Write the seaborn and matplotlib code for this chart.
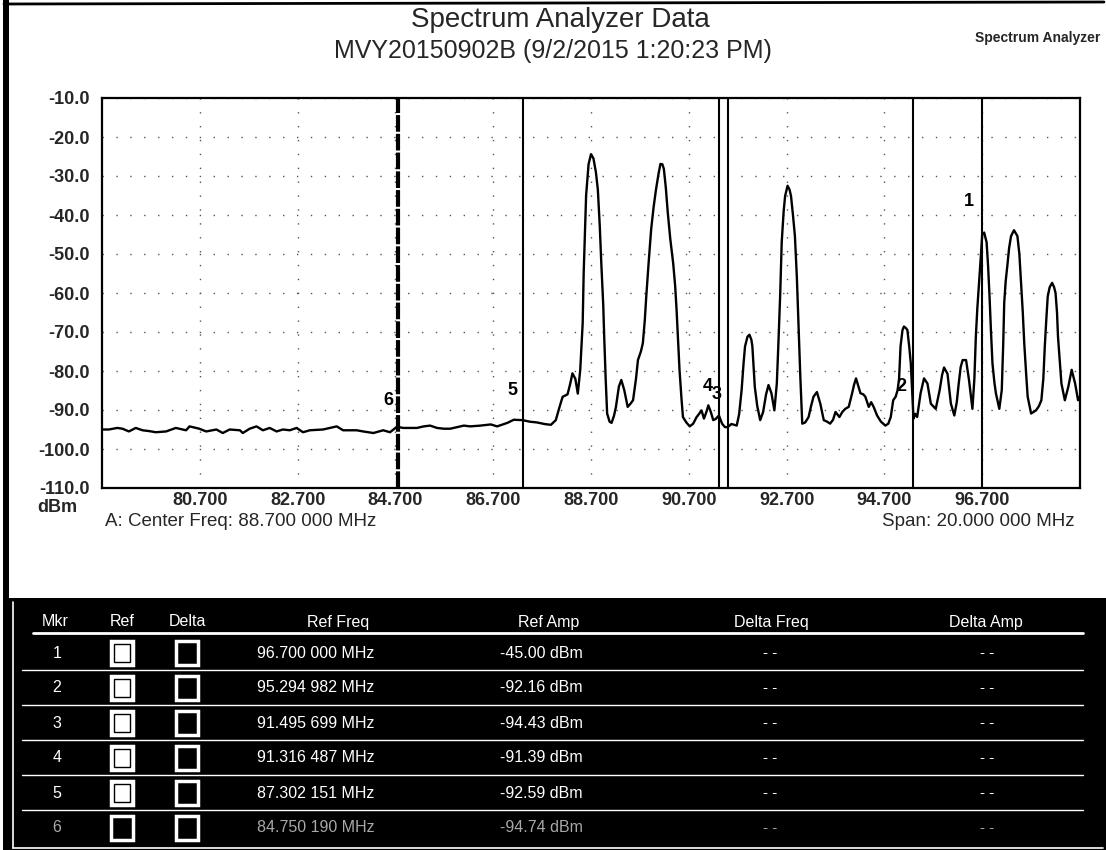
import matplotlib
matplotlib.use('Agg')
import matplotlib.pyplot as plt
import seaborn as sns
import pandas as pd
from matplotlib.patches import Rectangle
from matplotlib.lines import Line2D

sns.set_style('white')
plt.rcParams['font.family'] = ['Liberation Sans', 'DejaVu Sans']

# ---------------- data ----------------
freq_mhz = [
    78.70, 78.84, 79.01, 79.12, 79.25, 79.39, 79.53, 79.66, 79.80, 80.01,
    80.21, 80.42, 80.49, 80.69, 80.83, 81.04, 81.17, 81.31, 81.52, 81.58,
    81.72, 81.86, 81.99, 82.13, 82.27, 82.40, 82.54, 82.68, 82.81, 82.95,
    83.22, 83.50, 83.63, 83.91, 84.04, 84.25, 84.45, 84.59, 84.73, 84.86,
    85.14, 85.28, 85.41, 85.55, 85.69, 85.82, 86.10, 86.23, 86.44, 86.65,
    86.78, 86.99, 87.12, 87.30, 87.45, 87.60, 87.75, 87.88, 87.98, 88.05,
    88.12, 88.22, 88.28, 88.32, 88.38, 88.43, 88.48, 88.53, 88.55, 88.60,
    88.65, 88.70, 88.75, 88.80, 88.84, 88.88, 88.91, 88.95, 88.97, 89.00,
    89.03, 89.08, 89.12, 89.17, 89.21, 89.27, 89.32, 89.38, 89.45, 89.50,
    89.56, 89.62, 89.66, 89.72, 89.76, 89.80, 89.83, 89.88, 89.93, 89.98,
    90.03, 90.08, 90.12, 90.16, 90.19, 90.23, 90.27, 90.32, 90.38, 90.42,
    90.45, 90.48, 90.51, 90.55, 90.58, 90.65, 90.72, 90.79, 90.86, 90.91,
    90.96, 91.01, 91.06, 91.10, 91.15, 91.20, 91.25, 91.316, 91.38, 91.44,
    91.496, 91.57, 91.63, 91.68, 91.73, 91.78, 91.82, 91.85, 91.90, 91.94,
    91.98, 92.00, 92.05, 92.10, 92.16, 92.22, 92.28, 92.33, 92.39, 92.45,
    92.50, 92.53, 92.57, 92.60, 92.64, 92.67, 92.72, 92.76, 92.79, 92.83,
    92.87, 92.91, 92.94, 92.98, 93.02, 93.08, 93.15, 93.20, 93.25, 93.32,
    93.39, 93.46, 93.53, 93.59, 93.65, 93.70, 93.78, 93.84, 93.90, 93.97,
    94.04, 94.08, 94.12, 94.17, 94.21, 94.27, 94.31, 94.38, 94.43, 94.48,
    94.55, 94.63, 94.72, 94.78, 94.83, 94.88, 94.93, 94.97, 95.00, 95.03,
    95.07, 95.10, 95.14, 95.17, 95.21, 95.24, 95.27, 95.295, 95.33, 95.37,
    95.44, 95.51, 95.58, 95.65, 95.75, 95.83, 95.88, 95.92, 95.99, 96.06,
    96.13, 96.18, 96.22, 96.26, 96.30, 96.37, 96.43, 96.50, 96.54, 96.57,
    96.60, 96.64, 96.67, 96.70, 96.74, 96.79, 96.82, 96.85, 96.88, 96.91,
    96.95, 96.98, 97.05, 97.10, 97.13, 97.15, 97.18, 97.22, 97.25, 97.29,
    97.35, 97.42, 97.46, 97.49, 97.53, 97.56, 97.60, 97.63, 97.70, 97.75,
    97.80, 97.86, 97.91, 97.95, 97.98, 98.01, 98.04, 98.08, 98.13, 98.17,
    98.20, 98.23, 98.25, 98.29, 98.32, 98.39, 98.46, 98.53, 98.60, 98.66,
    98.70,
]
amp_dbm = [
    -95.0, -95.0, -94.6, -94.8, -95.5, -94.6, -95.2, -95.4, -95.7, -95.5,
    -94.6, -95.2, -94.2, -94.8, -95.5, -95.0, -95.9, -95.0, -95.2, -95.9,
    -94.8, -94.2, -95.2, -94.6, -95.5, -95.0, -95.2, -94.6, -95.7, -95.2,
    -95.0, -94.2, -95.2, -95.2, -95.5, -95.9, -95.2, -95.7, -94.3, -94.6,
    -94.6, -94.2, -94.0, -94.6, -94.8, -94.8, -94.0, -94.2, -94.0, -93.7,
    -94.2, -93.3, -92.5, -92.6, -93.0, -93.2, -93.6, -93.8, -92.6, -89.5,
    -86.6, -86.0, -83.0, -80.6, -82.0, -85.8, -79.7, -67.7, -55.0, -35.0,
    -27.0, -24.4, -25.5, -29.0, -33.5, -43.0, -52.2, -63.0, -71.2, -82.0,
    -90.9, -93.0, -93.3, -91.5, -89.2, -84.0, -82.3, -84.9, -89.2, -88.5,
    -87.5, -82.0, -77.2, -75.0, -72.9, -67.0, -60.9, -52.0, -43.7, -38.0,
    -33.4, -29.5, -26.9, -27.0, -28.2, -33.0, -39.4, -46.0, -52.3, -58.0,
    -64.3, -72.0, -79.7, -87.0, -91.8, -93.2, -94.2, -93.5, -91.8, -91.0,
    -90.1, -92.2, -90.5, -88.8, -90.5, -92.6, -92.3, -91.4, -93.5, -94.4,
    -94.4, -93.6, -93.8, -94.0, -91.0, -84.9, -78.0, -73.7, -71.2, -70.7,
    -72.0, -73.7, -84.1, -89.0, -92.6, -90.5, -86.0, -83.6, -85.7, -90.1,
    -83.2, -73.7, -60.0, -47.0, -39.0, -35.1, -32.5, -33.5, -35.1, -40.0,
    -45.4, -56.0, -66.9, -81.3, -93.5, -93.2, -91.8, -89.0, -86.6, -85.4,
    -88.4, -92.6, -93.0, -93.5, -92.5, -90.5, -91.8, -90.5, -89.7, -89.2,
    -85.7, -83.5, -81.9, -84.0, -85.7, -86.0, -86.6, -89.2, -88.0, -89.2,
    -91.4, -93.0, -94.0, -93.5, -91.8, -87.5, -86.6, -84.9, -82.0, -73.7,
    -69.5, -68.6, -69.0, -69.5, -74.0, -78.1, -86.0, -92.2, -91.0, -91.8,
    -85.7, -81.9, -83.2, -88.4, -89.7, -84.9, -81.0, -79.1, -80.7, -88.4,
    -91.4, -88.0, -83.2, -79.0, -77.2, -77.2, -82.3, -89.7, -82.0, -71.2,
    -64.0, -56.6, -51.0, -45.0, -44.5, -47.0, -53.0, -60.9, -70.0, -78.1,
    -83.0, -85.7, -89.7, -84.9, -73.0, -62.6, -57.0, -52.3, -48.5, -45.4,
    -43.9, -45.4, -50.0, -56.6, -65.0, -72.9, -81.0, -86.6, -90.9, -90.5,
    -90.1, -89.0, -87.5, -82.0, -73.7, -67.0, -60.9, -58.5, -57.4, -58.5,
    -60.0, -65.0, -71.2, -78.0, -83.2, -87.5, -84.1, -79.7, -83.2, -87.5,
    -86.5,
]

x_ticks = [80.7, 82.7, 84.7, 86.7, 88.7, 90.7, 92.7, 94.7, 96.7]
x_tick_labels = ["80.700", "82.700", "84.700", "86.700", "88.700",
                 "90.700", "92.700", "94.700", "96.700"]
y_ticks = [-10, -20, -30, -40, -50, -60, -70, -80, -90, -100, -110]
y_tick_labels = ["-10.0", "-20.0", "-30.0", "-40.0", "-50.0", "-60.0",
                 "-70.0", "-80.0", "-90.0", "-100.0", "-110.0"]

marker_ids = ["1", "2", "3", "4", "5", "6"]
marker_freq = [96.700000, 95.294982, 91.495699, 91.316487, 87.302151, 84.750190]
marker_freq_labels = ["96.700 000 MHz", "95.294 982 MHz", "91.495 699 MHz",
                      "91.316 487 MHz", "87.302 151 MHz", "84.750 190 MHz"]
marker_amp_labels = ["-45.00 dBm", "-92.16 dBm", "-94.43 dBm",
                     "-91.39 dBm", "-92.59 dBm", "-94.74 dBm"]
# where the marker numbers sit on the plot (freq, dBm)
marker_label_pos = [(96.42, -36.5), (95.05, -84.0), (91.27, -86.0),
                    (91.08, -84.0), (87.10, -85.0), (84.55, -87.5)]

# ---------------- figure ----------------
W, H = 1106, 850
fig = plt.figure(figsize=(W / 100, H / 100), dpi=100)
fig.patch.set_facecolor('white')

L, R, T, B = 102, 1080, 98, 488
ax = fig.add_axes([L / W, 1 - B / H, (R - L) / W, (B - T) / H])
ax.set_zorder(2)

df = pd.DataFrame({'freq': freq_mhz, 'amp': amp_dbm})
sns.lineplot(data=df, x='freq', y='amp', ax=ax, color='black',
             linewidth=1.7, sort=False, estimator=None)

ax.set_xlim(78.7, 98.7)
ax.set_ylim(-110, -10)
ax.set_xticks(x_ticks)
ax.set_xticklabels(x_tick_labels, fontsize=13, fontweight='bold')
ax.set_yticks(y_ticks)
ax.set_yticklabels(y_tick_labels, fontsize=13, fontweight='bold')
ax.tick_params(axis='x', length=0, pad=3)
ax.tick_params(axis='y', length=0, pad=9)
ax.set_xlabel('')
ax.set_ylabel('')
ax.grid(True, color='#555555', linestyle=(0, (1, 9)), linewidth=1.0)
for s in ax.spines.values():
    s.set_color('black')
    s.set_linewidth(1.6)

# marker lines
for i, f in enumerate(marker_freq):
    if marker_ids[i] == "6":
        ax.axvline(f, color='black', linewidth=3.0, linestyle=(0, (4, 0.5)), zorder=3)
    else:
        ax.axvline(f, color='black', linewidth=1.5, zorder=3)
for mid, (fx, fy) in zip(marker_ids, marker_label_pos):
    ax.text(fx, fy, mid, fontsize=13, fontweight='bold', ha='center',
            va='center', color='black', zorder=4)

# ---------------- overlay in pixel coordinates ----------------
ov = fig.add_axes([0, 0, 1, 1])
ov.set_xlim(0, W)
ov.set_ylim(H, 0)
ov.axis('off')
ov.set_zorder(1)

# page border (scan frame)
ov.add_patch(Rectangle((3, 0), 6, H, color='black', lw=0))
ov.add_line(Line2D([4, 1104], [4, 2], color='black', lw=2))

ov.text(560, 20, "Spectrum Analyzer Data", fontsize=20, ha='center', va='center')
ov.text(553, 51, "MVY20150902B (9/2/2015 1:20:23 PM)", fontsize=18,
        ha='center', va='center')
ov.text(1100, 38, "Spectrum Analyzer", fontsize=10, fontweight='bold',
        ha='right', va='center')

ov.text(57, 508, "dBm", fontsize=13, fontweight='bold', ha='center', va='center')
ov.text(105, 522, "A: Center Freq: 88.700 000 MHz", fontsize=13.5, ha='left', va='center')
ov.text(1075, 522, "Span: 20.000 000 MHz", fontsize=13.5, ha='right', va='center')

# ---------------- marker table ----------------
ov.add_patch(Rectangle((9, 598), 1097, 252, color='black', lw=0))
ov.add_line(Line2D([13, 13], [602, 848], color='white', lw=1.2))
ov.add_line(Line2D([13, 1103], [848, 848], color='white', lw=1.2))

hdr_y = 622
cols = [("Mkr", 55), ("Ref", 122), ("Delta", 187), ("Ref Freq", 338),
        ("Ref Amp", 549), ("Delta Freq", 771), ("Delta Amp", 986)]
for name, cx in cols:
    ov.text(cx, hdr_y, name, fontsize=11.5, color='white', ha='center', va='center')
ov.add_line(Line2D([33, 1083], [633, 633], color='white', lw=2))

row0, step = 653, 35
for i, mid in enumerate(marker_ids):
    yc = row0 + i * step
    dim = (mid == "6")
    tc = '#a8a8a8' if dim else 'white'
    ov.text(57, yc, mid, fontsize=11.5, color=tc, ha='center', va='center')
    # Ref checkbox
    if dim:
        ov.add_patch(Rectangle((111, yc - 12), 22, 24, fill=False,
                               edgecolor='white', lw=2.5))
    else:
        ov.add_patch(Rectangle((111, yc - 12), 22, 24, facecolor='white',
                               edgecolor='white', lw=2.5))
        ov.add_patch(Rectangle((114, yc - 9), 16, 18, fill=False,
                               edgecolor='black', lw=1.0))
    # Delta checkbox
    ov.add_patch(Rectangle((176, yc - 12), 22, 24, fill=False,
                           edgecolor='white', lw=2.5))
    ov.text(257, yc, marker_freq_labels[i], fontsize=11.5, color=tc,
            ha='left', va='center')
    ov.text(500, yc, marker_amp_labels[i], fontsize=11.5, color=tc,
            ha='left', va='center')
    ov.text(770, yc, "- -", fontsize=11, color=tc, ha='center', va='center')
    ov.text(987, yc, "- -", fontsize=11, color=tc, ha='center', va='center')
    if i < len(marker_ids) - 1:
        ov.add_line(Line2D([22, 1083], [yc + 17, yc + 17], color='white', lw=1.0))

fig.savefig('out.png', dpi=100, facecolor='white')
